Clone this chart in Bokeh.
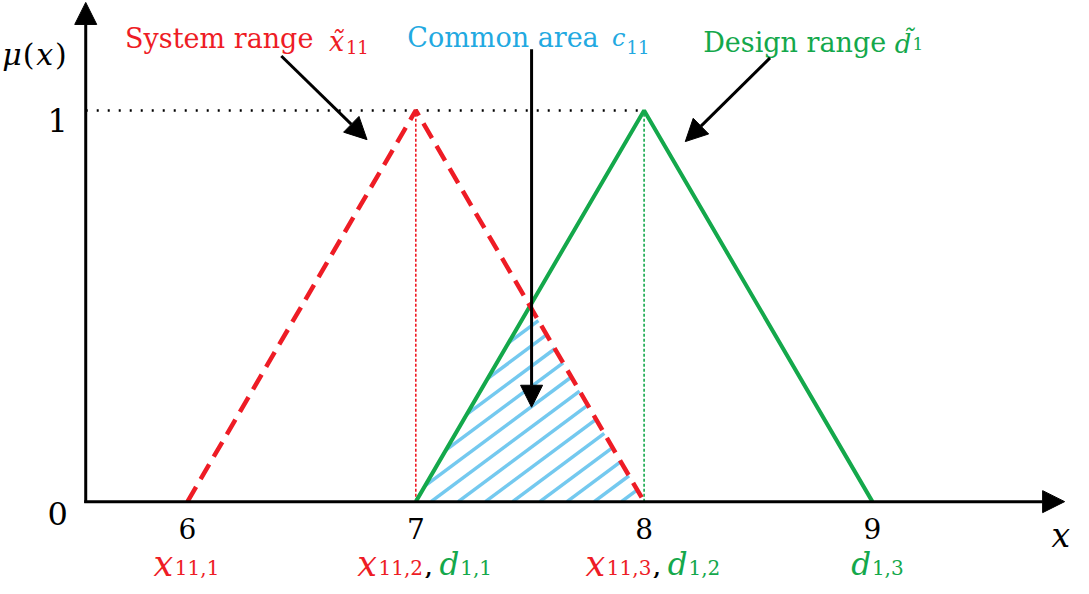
import math
from bokeh.plotting import figure
from bokeh.models import Range1d, Arrow, NormalHead
from bokeh.core.properties import value
from bokeh.embed import file_html
from bokeh.resources import INLINE

# ---------------- data ----------------
system_x = [6, 7, 8]          # x11,1  x11,2  x11,3  (system range, triangular)
design_x = [7, 8, 9]          # d1,1   d1,2   d1,3   (design range, triangular)
membership = [0, 1, 0]
x_ticks = [6, 7, 8, 9]
x_tick_labels = ["6", "7", "8", "9"]
y_ticks = [0, 1]
y_tick_labels = ["0", "1"]
system_subs = ["11,1", "11,2", "11,3"]
design_subs = ["1,1", "1,2", "1,3"]

# ---------------- layout helpers (reference-pixel -> data) ----------------
REF_W, REF_H = 1089, 594
W, H = 1073, 578
PX7, PXU = 421.5, 231.7     # x=7 position and px per unit (reference)
PY0, PYU = 515.0, 402.0     # y=0 position and px per unit (reference)


def X(px):
    return 7 + (px - PX7) / PXU


def Y(py):
    return (PY0 - py) / PYU


def PX(x):
    return PX7 + (x - 7) * PXU


RED = "#EE1C25"
GREEN = "#14A84B"
BLUE = "#22A9E1"
HATCH = "#5CC0EC"
FONT = "DejaVu Serif"
TILDE = "\u0303"

p = figure(width=W, height=H, x_range=Range1d(X(0), X(REF_W)), y_range=Range1d(Y(REF_H), Y(0)),
           output_backend="svg", toolbar_location=None, min_border=0,
           x_axis_type=None, y_axis_type=None)
p.outline_line_color = None
p.background_fill_color = "white"
p.border_fill_color = "white"

# ---------------- overlap (common area) with hatching ----------------
d0, d1 = design_x[0], design_x[1]
s1, s2 = system_x[1], system_x[2]
a, b = 1 / (d1 - d0), 1 / (s2 - s1)
xi = (s2 * b + d0 * a) / (a + b)
yi = (xi - d0) * a

tri = [(PX(d0), 0.0), (PX(s2), 0.0), (PX(xi), yi * PYU)]   # ref px, y up, CCW
ang = math.radians(37)
dvec = (math.cos(ang), math.sin(ang))
step, phase = 27.6, PX(d0) + 15.5
hx, hy = [], []
c = phase - step * 40
while c < tri[1][0] + step:
    t0, t1 = -1e9, 1e9
    ok = True
    for k in range(3):
        (x0_, y0_), (x1_, y1_) = tri[k], tri[(k + 1) % 3]
        n = (-(y1_ - y0_), x1_ - x0_)
        num = n[0] * (c - x0_) + n[1] * (0 - y0_)
        den = n[0] * dvec[0] + n[1] * dvec[1]
        if abs(den) < 1e-12:
            if num < 0:
                ok = False
            continue
        t = -num / den
        if den > 0:
            t0 = max(t0, t)
        else:
            t1 = min(t1, t)
    if ok and t1 - t0 > 1:
        hx.append([X(c + t0 * dvec[0]), X(c + t1 * dvec[0])])
        hy.append([t0 * dvec[1] / PYU, t1 * dvec[1] / PYU])
    c += step
p.multi_line(xs=hx, ys=hy, line_color=HATCH, line_width=3.5, line_alpha=0.85)

# ---------------- guide lines ----------------
axis_x = X(86.5)
p.line(x=[axis_x, design_x[1]], y=[1, 1], line_color="black", line_width=2.5, line_dash="2 9")
p.line(x=[system_x[1], system_x[1]], y=[0, 1], line_color=RED, line_width=1.6, line_dash="3 2")
p.line(x=[design_x[1], design_x[1]], y=[0, 1], line_color=GREEN, line_width=1.6, line_dash="3 2")

# ---------------- membership functions ----------------
p.line(x=design_x, y=membership, line_color=GREEN, line_width=4)
p.line(x=system_x, y=membership, line_color=RED, line_width=4.5, line_dash="17 9")


# ---------------- axes with arrows ----------------
def arrow(x0, y0, x1, y1):
    p.add_layout(Arrow(end=NormalHead(size=22, fill_color="black", line_color="black", line_width=1),
                       x_start=x0, y_start=y0, x_end=x1, y_end=y1,
                       line_color="black", line_width=3))


arrow(axis_x, Y(516.5), axis_x, Y(2))
arrow(X(85), 0, X(1080), 0)

# annotation arrows
arrow(X(285), Y(57), X(372), Y(143))
arrow(X(539), Y(50), X(539), Y(418))
arrow(X(781), Y(59), X(695), Y(145))

# ---------------- texts (centre-anchored) ----------------
EM = {",": .318, "(": .39, ")": .39}
EM_IT = {"x": .60, "d": .62, "c": .54, "\u03bc": .64}


def width(txt, size, style):
    w = 0.0
    for ch in txt:
        if ch == TILDE:
            continue
        if style == "italic":
            w += EM_IT.get(ch, .62)
        elif ch.isdigit():
            w += .636
        else:
            w += EM.get(ch, .62)
    return w * size


def put(x, y, txt, size, color, style="normal"):
    p.text(x=[x], y=[y], text=[txt], text_font=value(FONT), text_font_size=f"{size}px",
           text_font_style=style, text_color=color, text_align="center", text_baseline="alphabetic")


def run(x0, pieces):
    """pieces: (text, size, style, colour, y, gap_after_px) laid out left to right from data x0."""
    left = x0
    for txt, size, style, col, y, gap in pieces:
        w = width(txt, size, style)
        put(left + w / 2 / PXU, y, txt, size, col, style)
        left += (w + gap) / PXU


# tick labels
for v, lab in zip(x_ticks, x_tick_labels):
    put(v, -28 / PYU, lab, 28, "black")
for v, lab in zip(y_ticks, y_tick_labels):
    put(X(58), v - (12 if v == 0 else 10) / PYU, lab, 32, "black")

# axis titles
run(X(2), [("\u03bc", 30, "italic", "black", Y(56), 1.5),
           ("(", 30, "normal", "black", Y(56), 1.5),
           ("x", 30, "italic", "black", Y(56), 1.5),
           (")", 30, "normal", "black", Y(56), 0)])
put(X(1076), Y(550), "x", 33, "black", style="italic")

# bottom point labels
MAIN_Y, SUB_Y = -64 / PYU, -68 / PYU
for v in x_ticks:
    in_s, in_d = v in system_x, v in design_x
    if in_s and in_d:
        i, j = system_x.index(v), design_x.index(v)
        run(v - 60 / PXU, [("x", 35, "italic", RED, MAIN_Y, 1.5),
                           (system_subs[i], 20, "normal", RED, SUB_Y, 1),
                           (",", 30, "normal", "black", MAIN_Y, 7),
                           ("d", 31, "italic", GREEN, MAIN_Y, 1.5),
                           (design_subs[j], 20, "normal", GREEN, SUB_Y, 0)])
    elif in_s:
        i = system_x.index(v)
        run(v - 35 / PXU, [("x", 35, "italic", RED, MAIN_Y, 1.5),
                           (system_subs[i], 20, "normal", RED, SUB_Y, 0)])
    else:
        j = design_x.index(v)
        run(v - 21 / PXU, [("d", 31, "italic", GREEN, MAIN_Y, 1.5),
                           (design_subs[j], 20, "normal", GREEN, SUB_Y, 0)])

# top annotations
put(X(222), Y(39), "System range", 27, RED)
run(X(333), [("x" + TILDE, 27, "italic", RED, Y(42), 1.5),
             ("11", 18, "normal", RED, Y(48), 0)])

put(X(510), Y(38), "Common area", 27, BLUE)
run(X(621), [("c", 24, "italic", BLUE, Y(39), 1.5),
             ("11", 18, "normal", BLUE, Y(48), 0)])

put(X(806), Y(43), "Design range", 27, GREEN)
run(X(908), [("d" + TILDE, 26, "italic", GREEN, Y(45), 1.5),
             ("1", 17, "normal", GREEN, Y(45), 0)])

open("out.html", "w").write(file_html(p, INLINE))
